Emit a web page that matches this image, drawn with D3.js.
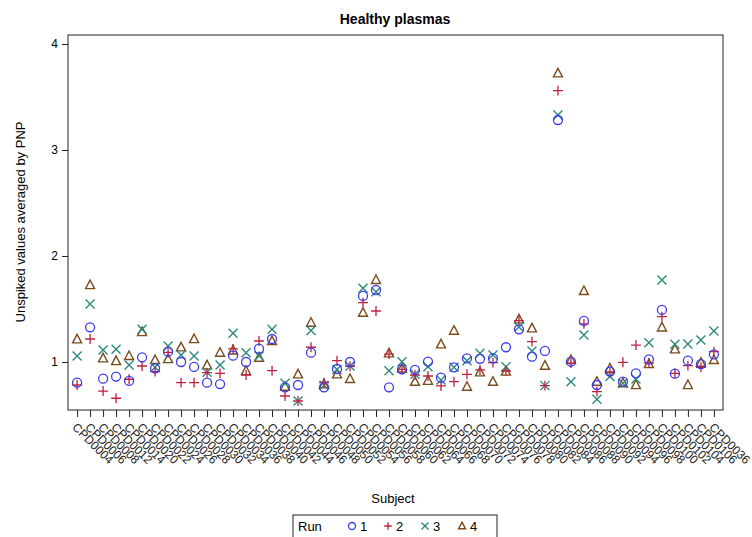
<!DOCTYPE html>
<html><head><meta charset="utf-8">
<script src="https://cdn.jsdelivr.net/npm/d3@7"></script>
<style>body{margin:0;background:#fff;} svg{display:block;font-family:"Liberation Sans",Arial,sans-serif;}</style>
</head><body><svg id="c" width="752" height="537"></svg>
<script>
const subjects = ["CPD0004","CPD0006","CPD0008","CPD0012","CPD0014","CPD0020","CPD0022","CPD0024","CPD0026","CPD0028",
"CPD0030","CPD0032","CPD0034","CPD0036","CPD0038","CPD0040","CPD0042","CPD0044","CPD0046","CPD0048",
"CPD0050","CPD0052","CPD0054","CPD0056","CPD0058","CPD0060","CPD0062","CPD0064","CPD0066","CPD0068",
"CPD0070","CPD0072","CPD0074","CPD0076","CPD0078","CPD0080","CPD0082","CPD0084","CPD0086","CPD0088",
"CPD0090","CPD0092","CPD0094","CPD0096","CPD0098","CPD0100","CPD0102","CPD0104","CPD0106","CPD0036"];
const run1 = [0.805,1.327,0.843,0.862,0.821,1.044,0.940,1.097,1.000,0.953,0.805,0.792,1.060,1.000,1.126,1.217,0.760,0.783,1.088,0.761,
0.934,1.000,1.623,1.679,0.761,0.931,0.925,1.003,0.852,0.950,1.035,1.030,1.035,1.139,1.308,1.050,1.104,3.283,1.003,1.387,
0.783,0.910,0.814,0.893,1.025,1.491,0.890,1.012,0.980,1.072];
const run2 = [0.783,1.217,0.726,0.658,0.837,0.962,0.909,1.090,0.805,0.805,0.900,0.893,1.123,0.877,1.198,0.918,0.679,0.632,1.139,0.805,
1.012,0.960,1.560,1.481,1.075,0.930,0.877,0.868,0.774,0.814,0.884,0.925,0.994,0.915,1.390,1.192,0.777,3.560,0.990,1.360,
0.720,0.900,0.997,1.160,0.990,1.428,0.893,0.966,0.950,1.097];
const run3 = [1.057,1.547,1.113,1.120,0.972,1.308,0.950,1.151,1.066,1.057,0.903,0.972,1.271,1.088,1.057,1.308,0.799,0.632,1.296,0.780,
0.930,0.962,1.695,1.663,0.918,1.003,0.884,0.956,0.830,0.950,1.012,1.082,1.066,0.956,1.330,1.104,0.777,3.330,0.814,1.255,
0.648,0.862,0.800,0.840,1.182,1.774,1.167,1.170,1.208,1.292];
const run4 = [1.214,1.726,1.035,1.009,1.057,1.283,1.019,1.028,1.139,1.217,0.969,1.088,1.110,0.915,1.041,1.198,0.767,0.884,1.371,0.790,
0.884,0.840,1.465,1.774,1.082,0.940,0.814,0.823,1.167,1.296,0.767,0.903,0.814,0.910,1.403,1.318,0.966,3.724,1.019,1.670,
0.814,0.940,0.800,0.783,0.981,1.327,1.120,0.783,0.994,1.019];
const runs = ["1","2","3","4"];
const yTicks = [1,2,3,4];

const svg = d3.select("#c");
const L=68, R=723, T=35, B=410;
const x = d3.scalePoint().domain(d3.range(subjects.length)).range([L,R]).padding(0.7);
const y = d3.scaleLinear().domain([0.547,4.085]).range([B,T]);

const colors = {"1":"#3b3bef","2":"#c02040","3":"#2c8a7c","4":"#7a4c1e"};
function marker(g, run, s){
  const c = colors[run];
  if(run==="1") g.append("circle").attr("r",s*0.5).attr("fill","none").attr("stroke",c).attr("stroke-width",1.3);
  else if(run==="2") g.append("path").attr("d",`M${-s*0.55},0H${s*0.55}M0,${-s*0.55}V${s*0.55}`).attr("stroke",c).attr("stroke-width",1.3).attr("fill","none");
  else if(run==="3") g.append("path").attr("d",`M${-s*0.5},${-s*0.5}L${s*0.5},${s*0.5}M${-s*0.5},${s*0.5}L${s*0.5},${-s*0.5}`).attr("stroke",c).attr("stroke-width",1.4).attr("fill","none");
  else g.append("path").attr("d",`M0,${-s*0.55}L${s*0.5},${s*0.4}L${-s*0.5},${s*0.4}Z`).attr("stroke",c).attr("stroke-width",1.4).attr("fill","none");
}

// title
svg.append("text").attr("x",395).attr("y",24).attr("text-anchor","middle").attr("font-size",14).attr("font-weight","bold").text("Healthy plasmas");

// frame
svg.append("rect").attr("x",L).attr("y",T).attr("width",R-L).attr("height",B-T).attr("fill","none").attr("stroke","#222").attr("stroke-width",1);

// y axis
const ya = svg.append("g").attr("transform",`translate(${L},0)`)
 .call(d3.axisLeft(y).tickValues(yTicks).tickSize(6).tickPadding(4).tickFormat(d3.format("d")));
ya.select(".domain").remove();
ya.selectAll("text").attr("font-size",12).attr("fill","#000").style("font-family","Liberation Sans, Arial, sans-serif");
ya.selectAll("line").attr("stroke","#222");

// x axis
const xa = svg.append("g").attr("transform",`translate(0,${B})`)
 .call(d3.axisBottom(x).tickSize(7).tickFormat(i=>subjects[i]));
xa.select(".domain").remove();
xa.selectAll("line").attr("stroke","#222");
xa.selectAll("text").attr("font-size",12).attr("fill","#222").style("font-family","Liberation Sans, Arial, sans-serif")
  .attr("text-anchor","start").attr("dy",0).attr("y",0)
  .attr("transform","translate(-6,18) rotate(45)");

// axis labels
svg.append("text").attr("transform","translate(25,222) rotate(-90)").attr("text-anchor","middle").attr("font-size",13).text("Unspiked values averaged by PNP");
svg.append("text").attr("x",393).attr("y",503).attr("text-anchor","middle").attr("font-size",13).text("Subject");

// points
const series = {"1":run1,"2":run2,"3":run3,"4":run4};
["4","3","2","1"].forEach(r=>{
  series[r].forEach((v,i)=>{
    const g = svg.append("g").attr("transform",`translate(${x(i)},${y(v)})`);
    marker(g,r,9);
  });
});

// legend
const lg = svg.append("g");
lg.append("rect").attr("x",293).attr("y",515).attr("width",204).attr("height",30).attr("fill","none").attr("stroke","#222");
lg.append("text").attr("x",298).attr("y",531).attr("font-size",13).text("Run");
const lx = [352,388,425,462];
runs.forEach((r,k)=>{
  const g = lg.append("g").attr("transform",`translate(${lx[k]},526)`);
  marker(g,r,7);
  lg.append("text").attr("x",lx[k]+8).attr("y",531).attr("font-size",13).text(r);
});
</script></body></html>
